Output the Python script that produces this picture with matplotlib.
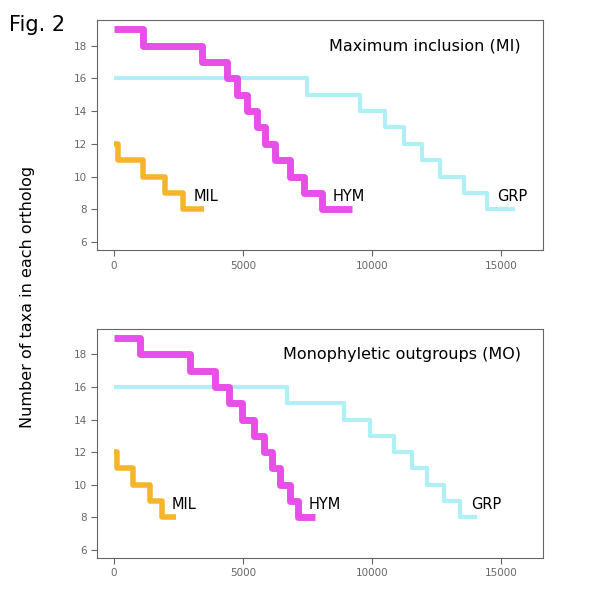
import matplotlib.pyplot as plt
import numpy as np

# step edges (x where the count drops) and the taxa counts
mi_mil_x = [0, 170, 1140, 1980, 2690, 3470]
mi_mil_y = [12, 11, 10, 9, 8]
mi_hym_x = [0, 1140, 3400, 4370, 4760, 5150, 5540, 5860, 6250, 6830, 7350, 8060, 9220]
mi_hym_y = [19, 18, 17, 16, 15, 14, 13, 12, 11, 10, 9, 8]
mi_grp_x = [0, 7480, 9550, 10520, 11230, 11940, 12650, 13560, 14460, 15560]
mi_grp_y = [16, 15, 14, 13, 12, 11, 10, 9, 8]

mo_mil_x = [0, 100, 750, 1400, 1850, 2400]
mo_mil_y = [12, 11, 10, 9, 8]
mo_hym_x = [0, 1010, 2950, 3920, 4440, 4950, 5410, 5800, 6120, 6440, 6830, 7150, 7800]
mo_hym_y = [19, 18, 17, 16, 15, 14, 13, 12, 11, 10, 9, 8]
mo_grp_x = [0, 6700, 8900, 9930, 10840, 11550, 12130, 12780, 13430, 14070]
mo_grp_y = [16, 15, 14, 13, 12, 11, 10, 9, 8]

cols = {"MIL": "#F5B52A", "HYM": "#E84FE8", "GRP": "#AEF0F5"}
lws = {"MIL": 4, "HYM": 5, "GRP": 3}

fig = plt.figure(figsize=(5.93, 5.93), dpi=100)
ax1 = fig.add_axes([0.164, 0.578, 0.752, 0.388])
ax2 = fig.add_axes([0.164, 0.059, 0.752, 0.386])

panels = [
    (ax1, "Maximum inclusion (MI)", [("GRP", mi_grp_x, mi_grp_y), ("HYM", mi_hym_x, mi_hym_y), ("MIL", mi_mil_x, mi_mil_y)]),
    (ax2, "Monophyletic outgroups (MO)", [("GRP", mo_grp_x, mo_grp_y), ("HYM", mo_hym_x, mo_hym_y), ("MIL", mo_mil_x, mo_mil_y)]),
]

for ax, title, series in panels:
    for name, xs, ys in series:
        yy = ys + [ys[-1]]
        ax.step(xs, yy, where="post", color=cols[name], lw=lws[name], solid_capstyle="butt")
        ax.text(xs[-2] + 400, ys[-1] + 0.35, name, fontsize=10.5, ha="left", va="bottom")
    ax.text(0.95, 0.92, title, transform=ax.transAxes, ha="right", va="top", fontsize=11.5)
    ax.set_xlim(-650, 16640)
    ax.set_ylim(5.5, 19.55)
    ax.set_xticks([0, 5000, 10000, 15000])
    ax.set_yticks(np.arange(6, 19, 2))
    ax.tick_params(labelsize=7.5, colors="#666666", length=4)
    for s in ax.spines.values():
        s.set_color("#666666")

fig.text(0.015, 0.975, "Fig. 2", fontsize=15, va="top")
fig.text(0.047, 0.5, "Number of taxa in each ortholog", rotation=90, va="center", ha="center", fontsize=11.5)
fig.savefig("out.png", dpi=100)
